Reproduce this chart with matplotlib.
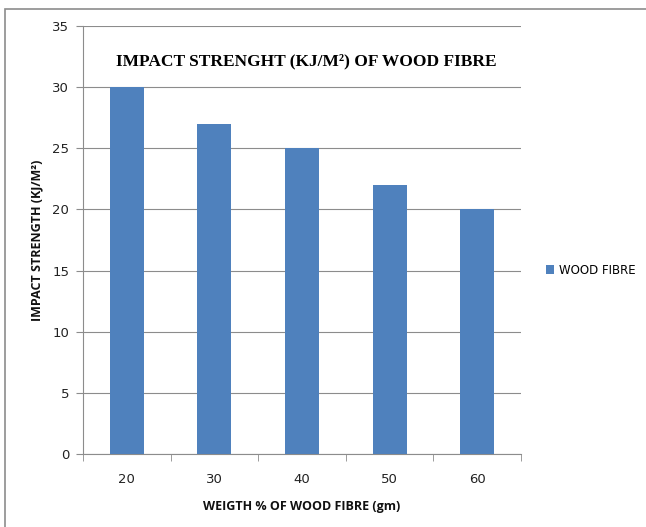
import matplotlib.pyplot as plt
from matplotlib.patches import Rectangle
import numpy as np

weight = ["20", "30", "40", "50", "60"]
strength = [30, 27, 25, 22, 20]

fig = plt.figure(figsize=(6.46, 5.27), dpi=100)
fig.patches.append(Rectangle((5 / 646, -0.1), 1.1, 1.1 - 9 / 527, transform=fig.transFigure,
                             fill=False, edgecolor='#8c8c8c', linewidth=1.2))

ax = fig.add_axes([83 / 646, 73 / 527, 438 / 646, 428 / 527])
x = np.arange(len(weight))
ax.bar(x, strength, width=0.39, color='#4F81BD', label='WOOD FIBRE', zorder=3)

ax.set_xlim(-0.5, len(weight) - 0.5)
ax.set_ylim(0, 35)
ax.set_yticks(range(0, 36, 5))
ax.yaxis.grid(True, color='#8c8c8c', linewidth=0.8, zorder=0)

ax.set_xticks(x)
ax.set_xticklabels(weight)
ax.set_xticks(np.arange(-0.5, len(weight)), minor=True)
ax.tick_params(axis='x', which='major', length=0, pad=14, labelsize=9.5, labelcolor='#222222')
ax.tick_params(axis='x', which='minor', length=5, color='#8c8c8c')
ax.tick_params(axis='y', length=5, color='#8c8c8c', labelsize=9.5, labelcolor='#222222', pad=5)

for side in ['top', 'right']:
    ax.spines[side].set_visible(False)
for side in ['left', 'bottom']:
    ax.spines[side].set_color('#8c8c8c')

ax.set_xlabel("WEIGTH % OF WOOD FIBRE (gm)", fontsize=9, fontweight='bold',
              family='Open Sans', labelpad=10, color='#111111')
ax.set_ylabel("IMPACT STRENGTH (KJ/M²)", fontsize=9, fontweight='bold',
              family='Open Sans', labelpad=6, color='#111111')
ax.text(0.51, 0.917, "IMPACT STRENGHT (KJ/M²) OF WOOD FIBRE", transform=ax.transAxes,
        ha='center', va='center', fontsize=12.5, fontweight='bold', family='Liberation Serif')

fig.legend(loc='center left', bbox_to_anchor=(535 / 646, 1 - 270 / 527), frameon=False,
           fontsize=8.5, handlelength=0.7, handleheight=0.7, handletextpad=0.4)

fig.savefig("out.png", dpi=100)
